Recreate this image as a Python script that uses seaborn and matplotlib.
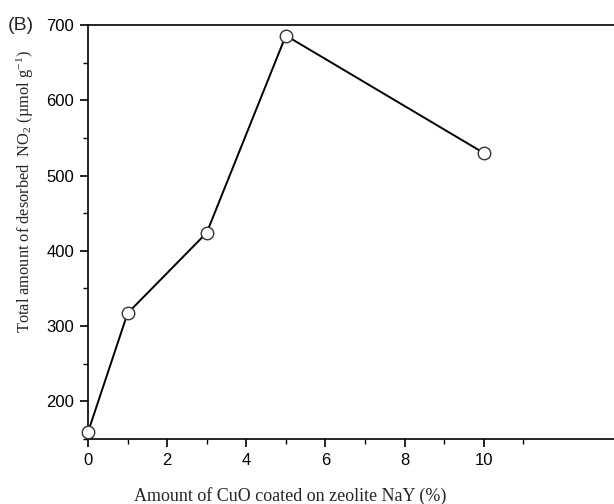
import matplotlib
matplotlib.use("Agg")
import matplotlib.pyplot as plt
from matplotlib.ticker import FixedLocator
import seaborn as sns
import pandas as pd

# CuO loading (%) and total desorbed NO2 (umol/g)
cuo_loading = [0, 1, 3, 5, 10]
desorbed_no2 = [159, 317, 424, 686, 530]

x_major = [0, 2, 4, 6, 8, 10]
x_minor = [1, 3, 5, 7, 9, 11]
y_major = [200, 300, 400, 500, 600, 700]
y_minor = [150, 250, 350, 450, 550, 650]

df = pd.DataFrame({"loading": cuo_loading, "no2": desorbed_no2})

sns.set_theme(style="ticks")
plt.rcParams["font.family"] = ["Liberation Sans", "DejaVu Sans"]
plt.rcParams["mathtext.fontset"] = "custom"
plt.rcParams["mathtext.rm"] = "Liberation Serif"
plt.rcParams["mathtext.it"] = "Liberation Serif:italic"

fig = plt.figure(figsize=(6.14, 5.04), dpi=100)
ax = fig.add_axes([88 / 614, 1 - 439 / 504, 554 / 614, 414 / 504])

sns.lineplot(data=df, x="loading", y="no2", ax=ax, color="black", linewidth=1.4,
             marker="o", markersize=9, markerfacecolor="white",
             markeredgecolor="#333333", markeredgewidth=1.0, zorder=3)
for ln in ax.lines:
    ln.set_clip_on(False)

ax.set_xlim(0, 14)
ax.set_ylim(150, 700)
ax.xaxis.set_major_locator(FixedLocator(x_major))
ax.xaxis.set_minor_locator(FixedLocator(x_minor))
ax.yaxis.set_major_locator(FixedLocator(y_major))
ax.yaxis.set_minor_locator(FixedLocator(y_minor))

for s in ax.spines.values():
    s.set_linewidth(1.2)
    s.set_color("black")
ax.tick_params(which="major", direction="out", length=6, width=1.2, labelsize=12,
               colors="black", pad=4)
ax.tick_params(which="minor", direction="out", length=3.5, width=1.0, colors="black")

serif = ["Liberation Serif", "DejaVu Serif"]
ax.set_xlabel("Amount of CuO coated on zeolite NaY (%)", family=serif, fontsize=13)
ax.set_ylabel("Total amount of desorbed  NO$_2$ (µmol g$^{\\mathregular{-1}}$)",
              family=serif, fontsize=11.8)
ax.xaxis.set_label_coords(0.365, -0.116)
ax.yaxis.set_label_coords(-0.094, 0.597)

fig.text(8 / 614, 1 - 25 / 504, "(B)", fontsize=14, va="center", ha="left")

fig.savefig("out.png", dpi=100)
